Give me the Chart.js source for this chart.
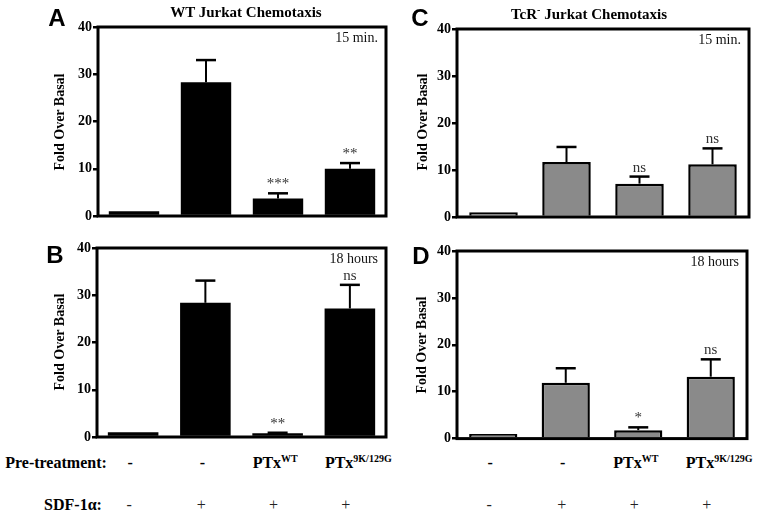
<!DOCTYPE html>
<html>
<head>
<meta charset="utf-8">
<script src="https://cdn.jsdelivr.net/npm/chart.js@4.4.1/dist/chart.umd.min.js"></script>
<style>
  body { margin: 0; background: #fff; }
  #wrap { position: relative; width: 759px; height: 512px; overflow: hidden;
          font-family: "Liberation Serif", "Times New Roman", serif; color: #000; }
  canvas { position: absolute; }
  .t { position: absolute; transform: translate(-50%, -50%); white-space: nowrap; line-height: 1; }
  .tl { position: absolute; transform: translate(0, -50%); white-space: nowrap; line-height: 1; }
  .letter { font-family: "Liberation Sans", Arial, sans-serif; font-weight: bold; font-size: 24px; }
  .title { font-weight: bold; font-size: 15px; }
  .ytitle { font-family: "Liberation Serif", "Times New Roman", serif; font-weight: bold; font-size: 14px;
            transform: translate(-50%, -50%) rotate(-90deg); }
  .row { font-weight: bold; font-size: 16px; }
  .thin { font-weight: normal; font-size: 16px; color: #222; }
  sup { font-size: 10px; vertical-align: 6px; line-height: 0; }
</style>
</head>
<body>
<div id="wrap">
  <canvas id="cA" width="400" height="228" style="left:0;top:0"></canvas>
  <canvas id="cB" width="400" height="220" style="left:0;top:228px"></canvas>
  <canvas id="cC" width="359" height="228" style="left:400px;top:0"></canvas>
  <canvas id="cD" width="359" height="220" style="left:400px;top:228px"></canvas>

  <div class="t letter" style="left:57px;top:18px">A</div>
  <div class="t letter" style="left:55px;top:255px">B</div>
  <div class="t letter" style="left:420px;top:18px">C</div>
  <div class="t letter" style="left:421px;top:256px">D</div>

  <div class="t title" style="left:246px;top:12px">WT Jurkat Chemotaxis</div>
  <div class="t title" style="left:589px;top:14px">TcR<sup>-</sup> Jurkat Chemotaxis</div>

  <div class="t ytitle" style="left:60px;top:122px">Fold Over Basal</div>
  <div class="t ytitle" style="left:60px;top:342px">Fold Over Basal</div>
  <div class="t ytitle" style="left:423px;top:122px">Fold Over Basal</div>
  <div class="t ytitle" style="left:422px;top:345px">Fold Over Basal</div>

  <div class="t row" style="left:56px;top:463px">Pre-treatment:</div>
  <div class="t row" style="left:73px;top:505px">SDF-1&alpha;:</div>
  <div id="rows"></div>
</div>

<script>
// ==== DATA ====
const categories = ['Basal', 'SDF-1α', 'PTxWT + SDF-1α', 'PTx9K/129G + SDF-1α'];
const yTicks = [0, 10, 20, 30, 40];

// Pre-treatment / SDF-1α rows under each group of bars
const pretreat = ['-', '-', 'PTx<sup>WT</sup>', 'PTx<sup>9K/129G</sup>'];
const sdf = ['-', '+', '+', '+'];

// WT Jurkat, 15 min
const wt15Mean = [1.0, 28.3, 3.7, 10.0];
const wt15Sem  = [0, 4.7, 1.1, 1.2];
const wt15Sig  = ['', '', '***', '**'];

// WT Jurkat, 18 hours
const wt18Mean = [1.0, 28.4, 0.8, 27.2];
const wt18Sem  = [0, 4.7, 0.1, 5.0];
const wt18Sig  = ['', '', '**', 'ns'];

// TcR- Jurkat, 15 min
const tcr15Mean = [1.0, 11.7, 7.1, 11.2];
const tcr15Sem  = [0, 3.2, 1.5, 3.4];
const tcr15Sig  = ['', '', 'ns', 'ns'];

// TcR- Jurkat, 18 hours
const tcr18Mean = [1.0, 11.9, 1.8, 13.2];
const tcr18Sem  = [0, 3.1, 0.6, 3.7];
const tcr18Sig  = ['', '', '*', 'ns'];

const SERIF = '"Liberation Serif", "Times New Roman", serif';

// error bars, stars, frame and time label
function extras(mean, sem, sig, time) {
  return {
    id: 'extras',
    afterDatasetsDraw(chart) {
      const ctx = chart.ctx, y = chart.scales.y, a = chart.chartArea;
      const meta = chart.getDatasetMeta(0);
      ctx.save();
      ctx.strokeStyle = '#000';
      meta.data.forEach((bar, i) => {
        const top = y.getPixelForValue(mean[i] + sem[i]);
        if (sem[i] > 0) {
          ctx.lineWidth = 2;
          ctx.beginPath();
          ctx.moveTo(bar.x, bar.y);
          ctx.lineTo(bar.x, top);
          ctx.stroke();
          ctx.lineWidth = 2.5;
          ctx.beginPath();
          ctx.moveTo(bar.x - 10, top);
          ctx.lineTo(bar.x + 10, top);
          ctx.stroke();
        }
        if (sig[i]) {
          ctx.fillStyle = '#333';
          ctx.font = '15px ' + SERIF;
          ctx.textAlign = 'center';
          ctx.textBaseline = 'middle';
          ctx.fillText(sig[i], bar.x, top - 9);
        }
      });
      // box round the plot
      ctx.lineWidth = 3;
      ctx.strokeRect(a.left, a.top, a.right - a.left, a.bottom - a.top);
      // time label
      ctx.fillStyle = '#111';
      ctx.font = '14px ' + SERIF;
      ctx.textAlign = 'right';
      ctx.textBaseline = 'middle';
      ctx.fillText(time, a.right - 8, a.top + 11);
      ctx.restore();
    }
  };
}

function makePanel(id, mean, sem, sig, time, gray, pad, barPct) {
  return new Chart(document.getElementById(id), {
    type: 'bar',
    data: {
      labels: categories,
      datasets: [{
        data: mean,
        backgroundColor: gray ? '#8a8a8a' : '#000',
        borderColor: '#000',
        borderWidth: gray ? 2.5 : 0,
        categoryPercentage: 1,
        barPercentage: barPct
      }]
    },
    options: {
      responsive: false,
      animation: false,
      devicePixelRatio: 1,
      layout: { padding: pad },
      plugins: { legend: { display: false }, tooltip: { enabled: false } },
      scales: {
        x: { display: false },
        y: {
          min: 0, max: 40,
          afterBuildTicks: s => { s.ticks = yTicks.map(v => ({ value: v })); },
          afterFit: s => { s.width = 40; },
          ticks: { color: '#000', padding: 1, font: { family: SERIF, weight: 'bold', size: 14 } },
          grid: { drawOnChartArea: false, drawTicks: true, tickLength: 5, color: '#000', lineWidth: 2.5 },
          border: { display: false }
        }
      }
    },
    plugins: [extras(mean, sem, sig, time)]
  });
}

const chA = makePanel('cA', wt15Mean, wt15Sem, wt15Sig, '15 min.', false, { left: 58, top: 27, right: 14, bottom: 12 }, 0.70);
const chB = makePanel('cB', wt18Mean, wt18Sem, wt18Sig, '18 hours', false, { left: 57, top: 20, right: 14, bottom: 11 }, 0.70);
const chC = makePanel('cC', tcr15Mean, tcr15Sem, tcr15Sig, '15 min.', true, { left: 17, top: 29, right: 10, bottom: 11 }, 0.665);
const chD = makePanel('cD', tcr18Mean, tcr18Sem, tcr18Sig, '18 hours', true, { left: 17, top: 23, right: 12, bottom: 8 }, 0.665);

// rows of treatment labels lined up under panels B and D
const rows = document.getElementById('rows');
[[chB, 0], [chD, 400]].forEach(([ch, off]) => {
  categories.forEach((c, i) => {
    const x = off + ch.scales.x.getPixelForValue(i);
    const p = document.createElement('div');
    const isPtx = pretreat[i].startsWith('PTx');
    p.className = (isPtx ? 'tl' : 't') + ' row';
    p.style.left = (isPtx ? x - 25 : x - 3) + 'px';
    p.style.top = '463px';
    p.innerHTML = pretreat[i];
    rows.appendChild(p);
    const s = document.createElement('div');
    s.className = 't thin';
    s.style.left = (x - 4) + 'px';
    s.style.top = '505px';
    s.textContent = sdf[i];
    rows.appendChild(s);
  });
});
</script>
</body>
</html>
